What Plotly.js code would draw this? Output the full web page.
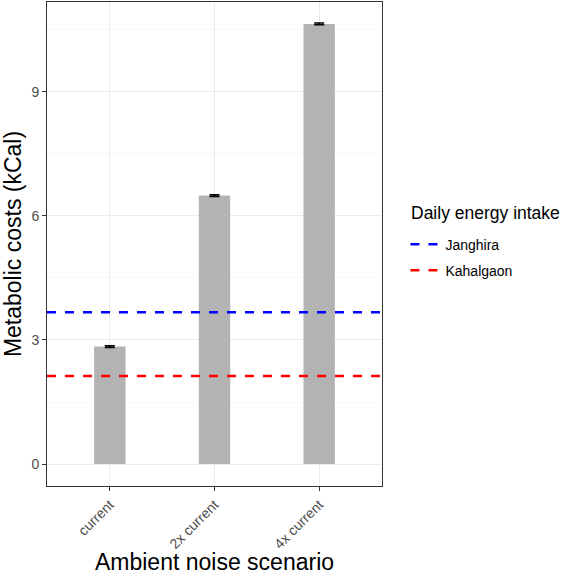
<!DOCTYPE html>
<html>
<head>
<meta charset="utf-8">
<script src="https://cdn.plot.ly/plotly-3.0.1.min.js"></script>
<style>html,body{margin:0;padding:0;background:#fff;}#chart{width:564px;height:575px;}</style>
</head>
<body>
<div id="chart"></div>
<script>
const scenarios = ["current", "2x current", "4x current"];
const costs = [2.84, 6.49, 10.64];
const costErr = [0.02, 0.02, 0.02];
const intakeNames = ["Janghira", "Kahalgaon"];
const intakeValues = [3.67, 2.13];
const intakeColors = ["#0000ff", "#ff0000"];
const legendTitle = "Daily energy intake";
const yTicks = [0, 3, 6, 9];

const font = "Liberation Sans, Arial, Helvetica, sans-serif";

const traces = [{
  type: "bar",
  x: scenarios,
  y: costs,
  width: 0.3,
  marker: {color: "#b3b3b3"},
  error_y: {type: "data", array: costErr, visible: true, color: "#000", thickness: 1.5, width: 5},
  showlegend: false,
  hoverinfo: "skip"
}];
intakeNames.forEach((n, i) => {
  traces.push({
    type: "scatter", mode: "lines",
    x: [0, 1], y: [intakeValues[i], intakeValues[i]],
    xaxis: "x2",
    name: n,
    legendgroup: "g" + i,
    line: {color: intakeColors[i], width: 2.5, dash: "dash"}
  });
});

const layout = {
  width: 564, height: 575,
  margin: {l: 47, r: 182, t: 2, b: 89},
  paper_bgcolor: "#fff", plot_bgcolor: "#fff",
  font: {family: font, color: "#000"},
  xaxis: {
    type: "category", range: [-0.6, 2.6],
    tickangle: -45, tickfont: {size: 14, color: "#4d4d4d", family: font},
    ticks: "outside", ticklen: 4, tickcolor: "#333", tickwidth: 1,
    showgrid: true, gridcolor: "#ebebeb", gridwidth: 1,
    showline: true, mirror: true, linecolor: "#333", linewidth: 1,
    zeroline: false,
    title: {text: "Ambient noise scenario", font: {size: 23, family: font, color: "#000"}, standoff: 4}
  },
  xaxis2: {overlaying: "x", range: [0, 1], visible: false, fixedrange: true},
  yaxis: {
    range: [-0.53, 11.17],
    tickvals: yTicks, ticktext: yTicks.map(String),
    tickfont: {size: 14, color: "#4d4d4d", family: font},
    ticks: "outside", ticklen: 4, tickcolor: "#333", tickwidth: 1,
    showgrid: true, gridcolor: "#ebebeb", gridwidth: 1,
    minor: {tickvals: [1.5, 4.5, 7.5, 10.5], showgrid: true, gridcolor: "#f3f3f3", gridwidth: 0.6, ticks: ""},
    showline: true, mirror: true, linecolor: "#333", linewidth: 1,
    zeroline: false,
    title: {text: "Metabolic costs (kCal)", font: {size: 23, family: font, color: "#000"}, standoff: 4}
  },
  legend: {
    x: 1.07, xanchor: "left", y: 0.472, yanchor: "middle",
    traceorder: "grouped",
    font: {size: 14, family: font, color: "#000"},
    itemwidth: 30, tracegroupgap: 5, bgcolor: "rgba(0,0,0,0)"
  },
  annotations: [{
    text: legendTitle, xref: "paper", yref: "paper",
    x: 1.081, xanchor: "left", y: 0.564, yanchor: "middle",
    showarrow: false, font: {size: 17.5, family: font, color: "#000"}
  }],
  showlegend: true
};

Plotly.newPlot("chart", traces, layout, {displayModeBar: false, staticPlot: true});
</script>
</body>
</html>
